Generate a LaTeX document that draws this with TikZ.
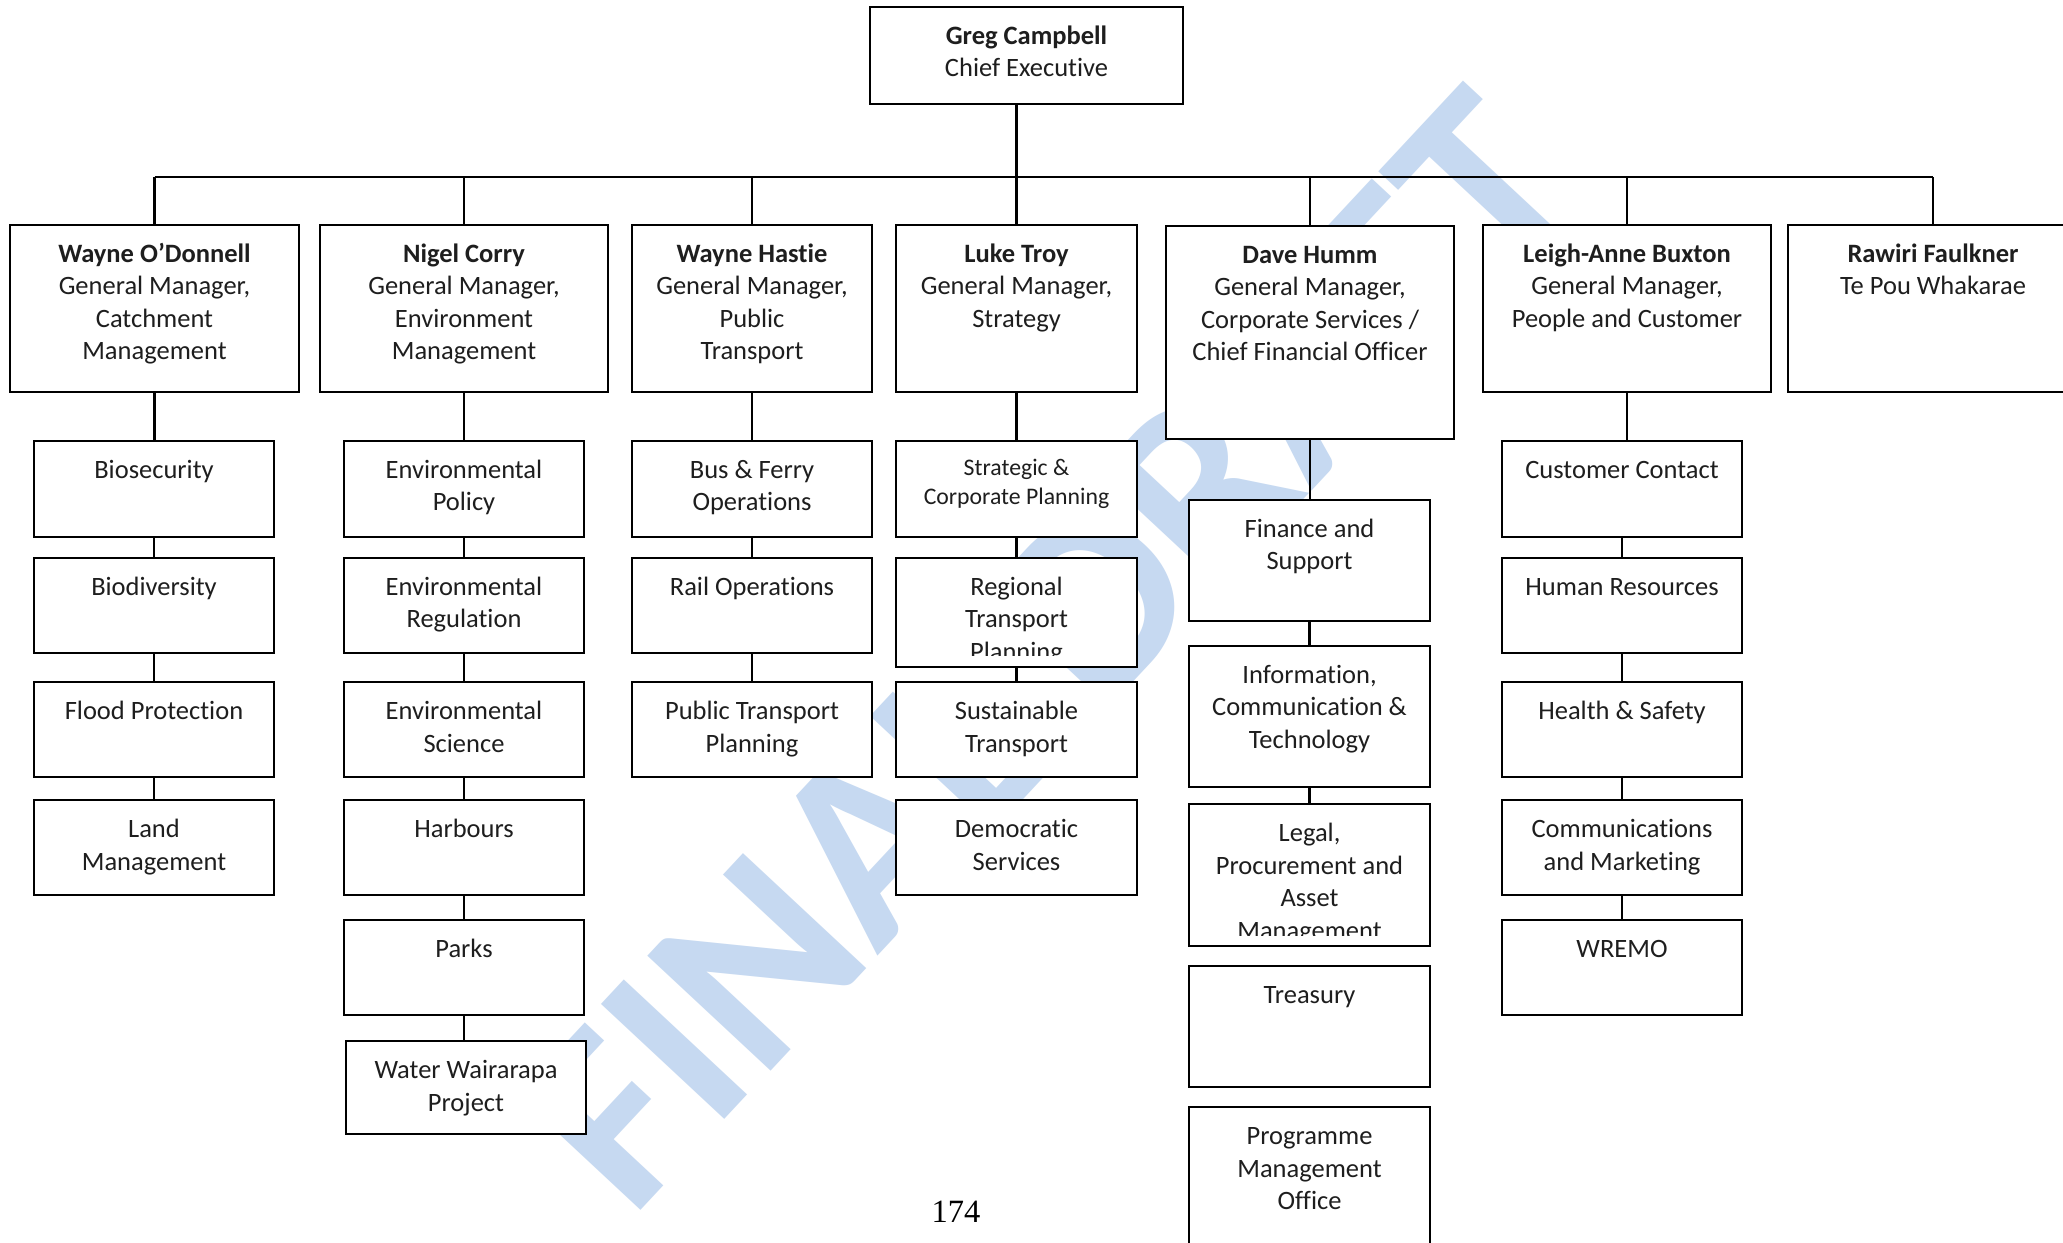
\documentclass[tikz,border=0pt]{standalone}
\usepackage{fontspec}
\setmainfont{Carlito}[Ligatures=NoCommon]
\newfontfamily\pnfont{Liberation Serif}
\usetikzlibrary{calc}
\newdimen\pxu \pxu=0.4pt
\definecolor{wmblue}{RGB}{198,217,241}
\definecolor{txtgray}{RGB}{30,30,30}
\tikzset{
  box/.style={draw=black, line width=0.8pt, fill=white, inner sep=0pt, outer sep=0pt, anchor=north west},
  txt/.style={anchor=north, inner sep=0pt, outer sep=0pt, text=txtgray, font=\fontsize{10.6pt}{13pt}\selectfont},
  conn/.style={draw=black, line width=1pt},
  wm/.style={text=wmblue, font=\bfseries\fontsize{104pt}{104pt}\selectfont, inner sep=0pt},
}
\newcommand{\orgbox}[7]{%
  \node[box, minimum width=#4*0.4pt, minimum height=#5*0.4pt] (#1) at (#2,#3) {};
  \node[txt] (#1t) at (#1.north) {\parbox[t]{#4\pxu}{\centering\rule{0pt}{#6}#7}};
}
\newcommand{\orgboxclip}[8]{%
  \node[box, minimum width=#4*0.4pt, minimum height=#5*0.4pt] (#1) at (#2,#3) {};
  \begin{scope}
    \clip (#2,#3) rectangle ++(#4,#7);
    \node[txt] (#1t) at (#1.north) {\parbox[t]{#4\pxu}{\centering\rule{0pt}{#6}#8}};
  \end{scope}
}
\newcommand{\vlink}[2]{\draw[conn] (#1.south) -- (#1.south |- #2.north);}
\begin{document}
\begin{tikzpicture}[x=0.4pt, y=-0.4pt]
\useasboundingbox (0,0) rectangle (2063,1243);
\fill[white] (0,0) rectangle (2063,1243);
\clip (0,0) rectangle (2063,1243);
% watermark
\node[wm, rotate=47] (wmark) at (1048,650) {FINAL DRAFT};
% page number
\node[font=\pnfont\fontsize{13pt}{13pt}\selectfont, text=black] (pg) at (956,1212) {174};
\coordinate (busy) at (0,177);
% top
\orgbox{ceo}{870}{7}{313}{97}{15pt}{\textbf{Greg Campbell}\\Chief Executive}
% level 1
\orgbox{gmA}{10}{225}{289}{167}{15pt}{\textbf{Wayne O’Donnell}\\General Manager,\\Catchment\\Management}
\orgbox{gmB}{320}{225}{288}{167}{15pt}{\textbf{Nigel Corry}\\General Manager,\\Environment\\Management}
\orgbox{gmC}{632}{225}{240}{167}{15pt}{\textbf{Wayne Hastie}\\General Manager,\\Public\\Transport}
\orgbox{gmD}{896}{225}{241}{167}{15pt}{\textbf{Luke Troy}\\General Manager,\\Strategy}
\orgbox{gmE}{1166}{226}{288}{213}{15pt}{\textbf{Dave Humm}\\General Manager,\\Corporate Services /\\Chief Financial Officer}
\orgbox{gmF}{1483}{225}{288}{167}{15pt}{\textbf{Leigh-Anne Buxton}\\General Manager,\\People and Customer}
\orgbox{gmG}{1788}{225}{290}{167}{15pt}{\textbf{Rawiri Faulkner}\\Te Pou Whakarae}
% column 1
\orgbox{bios}{34}{441}{240}{96}{15pt}{Biosecurity}
\orgbox{biod}{34}{558}{240}{95}{15pt}{Biodiversity}
\orgbox{flood}{34}{682}{240}{95}{15pt}{Flood Protection}
\orgbox{land}{34}{800}{240}{95}{15pt}{Land\\Management}
% column 2
\orgbox{envp}{344}{441}{240}{96}{15pt}{Environmental\\Policy}
\orgbox{envr}{344}{558}{240}{95}{15pt}{Environmental\\Regulation}
\orgbox{envs}{344}{682}{240}{95}{15pt}{Environmental\\Science}
\orgbox{harb}{344}{800}{240}{95}{15pt}{Harbours}
\orgbox{parks}{344}{920}{240}{95}{15pt}{Parks}
\orgbox{water}{346}{1041}{240}{93}{15pt}{Water Wairarapa\\Project}
% column 3
\orgbox{busf}{632}{441}{240}{96}{15pt}{Bus \& Ferry\\Operations}
\orgbox{rail}{632}{558}{240}{95}{15pt}{Rail Operations}
\orgbox{ptp}{632}{682}{240}{95}{15pt}{Public Transport\\Planning}
% column 4
\orgbox{strat}{896}{441}{241}{96}{13.9pt}{\fontsize{9.5pt}{11.6pt}\selectfont Strategic \&\\Corporate Planning}
\orgboxclip{regt}{896}{558}{241}{109}{15pt}{98}{Regional\\Transport\\Planning}
\orgbox{sust}{896}{682}{241}{95}{15pt}{Sustainable\\Transport}
\orgbox{demo}{896}{800}{241}{95}{15pt}{Democratic\\Services}
% column 5
\orgbox{fin}{1189}{500}{241}{121}{15pt}{Finance and\\Support}
\orgbox{ict}{1189}{646}{241}{141}{15pt}{Information,\\Communication \&\\Technology}
\orgboxclip{legal}{1189}{804}{241}{142}{15pt}{131}{Legal,\\Procurement and\\Asset\\Management}
\orgbox{treas}{1189}{966}{241}{121}{15pt}{Treasury}
\orgbox{pmo}{1189}{1107}{241}{160}{15pt}{Programme\\Management\\Office}
% column 6
\orgbox{cust}{1502}{441}{240}{96}{15pt}{Customer Contact}
\orgbox{hr}{1502}{558}{240}{95}{15pt}{Human Resources}
\orgbox{hs}{1502}{682}{240}{95}{15pt}{Health \& Safety}
\orgbox{comm}{1502}{800}{240}{95}{15pt}{Communications\\and Marketing}
\orgbox{wremo}{1502}{920}{240}{95}{15pt}{WREMO}
% connectors
\draw[conn] (gmD.north |- ceo.south) -- (gmD.north |- busy);
\draw[conn] (gmA.north |- busy) -- (gmG.north |- busy);
\foreach \n in {gmA,gmB,gmC,gmD,gmE,gmF,gmG} {\draw[conn] (\n.north) -- (\n.north |- busy);}
\vlink{gmA}{bios}\vlink{bios}{biod}\vlink{biod}{flood}\vlink{flood}{land}
\vlink{gmB}{envp}\vlink{envp}{envr}\vlink{envr}{envs}\vlink{envs}{harb}\vlink{harb}{parks}\vlink{parks}{water}
\vlink{gmC}{busf}\vlink{busf}{rail}\vlink{rail}{ptp}
\vlink{gmD}{strat}\vlink{strat}{regt}\vlink{regt}{sust}
\vlink{gmE}{fin}\vlink{fin}{ict}\vlink{ict}{legal}
\vlink{gmF}{cust}\vlink{cust}{hr}\vlink{hr}{hs}\vlink{hs}{comm}\vlink{comm}{wremo}
\end{tikzpicture}
\end{document}
